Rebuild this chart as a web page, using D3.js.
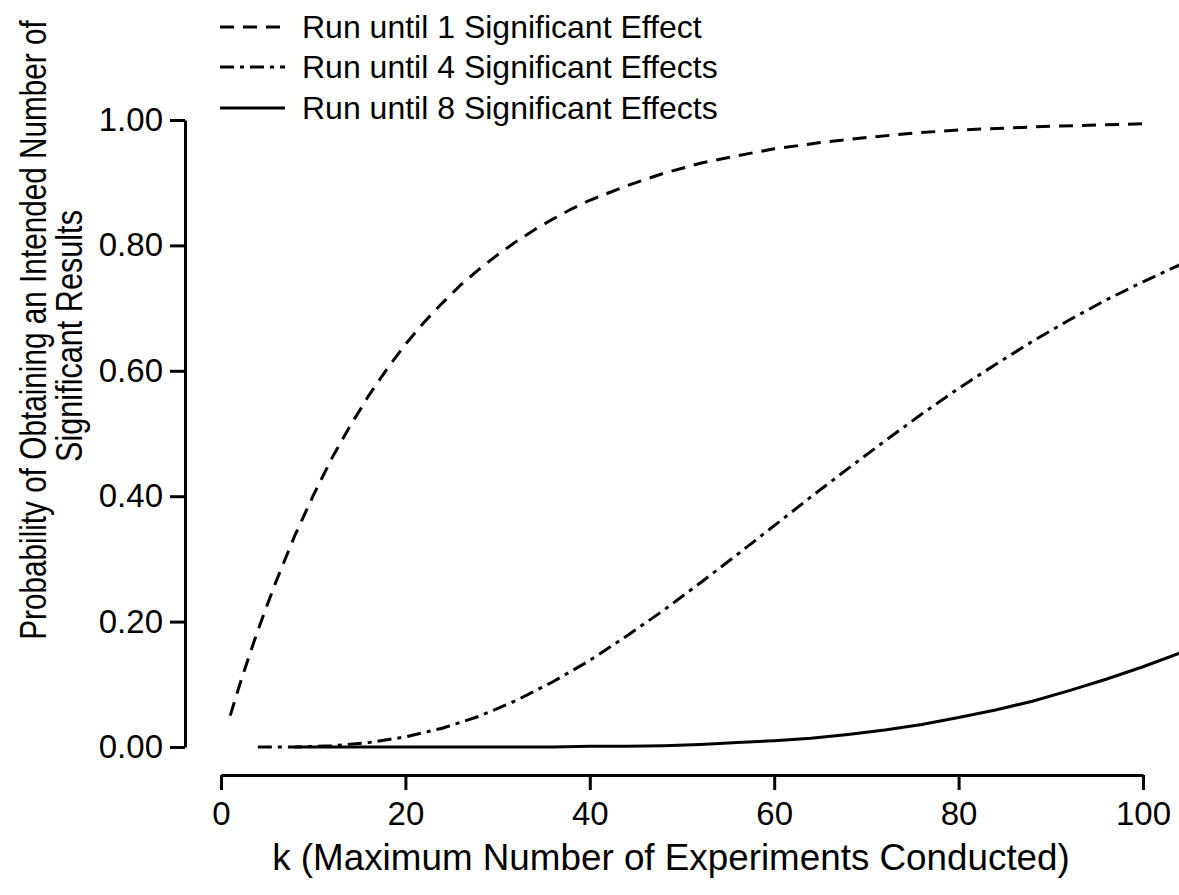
<!DOCTYPE html>
<html>
<head>
<meta charset="utf-8">
<script src="https://cdn.jsdelivr.net/npm/d3@7"></script>
<style>
  body { margin: 0; background: #fff; }
  text { font-family: "Liberation Sans", Arial, sans-serif; fill: #000; }
</style>
</head>
<body>
<div id="chart"></div>
<script>
// values
var kOne = [1, 2, 3, 4, 5, 6, 8, 10, 12, 14, 16, 18, 20, 22, 24, 26, 28, 30, 32, 34, 36, 38, 40, 44, 48, 52, 56, 60, 65, 70, 75, 80, 85, 90, 95, 100];
var pOne = [0.050, 0.098, 0.143, 0.186, 0.226, 0.265, 0.337, 0.401, 0.460, 0.512, 0.560, 0.603, 0.642, 0.677, 0.708, 0.737, 0.762, 0.785, 0.806, 0.825, 0.842, 0.858, 0.872, 0.895, 0.915, 0.931, 0.943, 0.954, 0.964, 0.972, 0.979, 0.984, 0.987, 0.990, 0.992, 0.994];

var kFour = [4, 8, 12, 16, 20, 24, 28, 32, 36, 40, 44, 48, 52, 56, 60, 64, 68, 72, 76, 80, 84, 88, 92, 96, 100, 104];
var pFour = [0.000, 0.000, 0.002, 0.007, 0.016, 0.030, 0.049, 0.074, 0.104, 0.138, 0.177, 0.218, 0.262, 0.307, 0.353, 0.399, 0.444, 0.488, 0.531, 0.572, 0.610, 0.647, 0.681, 0.713, 0.742, 0.769];

var kEight = [8, 12, 16, 20, 24, 28, 32, 36, 40, 44, 48, 52, 56, 60, 64, 68, 72, 76, 80, 84, 88, 92, 96, 100, 104];
var pEight = [0.000, 0.000, 0.000, 0.000, 0.000, 0.000, 0.000, 0.000, 0.001, 0.001, 0.002, 0.004, 0.007, 0.010, 0.014, 0.020, 0.027, 0.036, 0.047, 0.059, 0.073, 0.090, 0.108, 0.128, 0.150];

var xTicks = [0, 20, 40, 60, 80, 100];
var yTicks = [0, 0.2, 0.4, 0.6, 0.8, 1.0];

var seriesNames = ["Run until 1 Significant Effect", "Run until 4 Significant Effects", "Run until 8 Significant Effects"];
var dashes = ["14,9", "14,6,4,6", null];

var width = 1179, height = 895;

var svg = d3.select("#chart").append("svg")
    .attr("width", width)
    .attr("height", height);

var xScale = d3.scaleLinear().domain([0, 100]).range([221, 1143]);
var yScale = d3.scaleLinear().domain([0, 1]).range([747, 120]);

// x axis, offset below the plot
var xAxis = svg.append("g")
    .attr("transform", "translate(0,775)")
    .call(d3.axisBottom(xScale).tickValues(xTicks).tickSize(15).tickPadding(12).tickSizeOuter(0));
xAxis.select(".domain").attr("stroke-width", 3);
xAxis.selectAll(".tick line").attr("stroke-width", 3);
xAxis.selectAll(".tick text").style("font-size", "33px").attr("fill", "#000");

// y axis
var yAxis = svg.append("g")
    .attr("transform", "translate(185,0)")
    .call(d3.axisLeft(yScale).tickValues(yTicks).tickFormat(d3.format(".2f")).tickSize(15).tickPadding(7).tickSizeOuter(0));
yAxis.select(".domain").attr("stroke-width", 3);
yAxis.selectAll(".tick line").attr("stroke-width", 3);
yAxis.selectAll(".tick text").style("font-size", "33px").attr("fill", "#000");

var line = d3.line()
    .x(function(d) { return xScale(d[0]); })
    .y(function(d) { return yScale(d[1]); });

var allSeries = [d3.zip(kOne, pOne), d3.zip(kFour, pFour), d3.zip(kEight, pEight)];

allSeries.forEach(function(s, i) {
    svg.append("path")
        .datum(s)
        .attr("d", line)
        .attr("fill", "none")
        .attr("stroke", "#000")
        .attr("stroke-width", 3)
        .attr("stroke-dasharray", dashes[i]);
});

// legend
var legendY = [27, 67, 108];
seriesNames.forEach(function(name, i) {
    svg.append("line")
        .attr("x1", 220).attr("x2", 285)
        .attr("y1", legendY[i]).attr("y2", legendY[i])
        .attr("stroke", "#000")
        .attr("stroke-width", 3)
        .attr("stroke-dasharray", dashes[i]);
    svg.append("text")
        .attr("x", 302)
        .attr("y", legendY[i])
        .attr("dy", "0.35em")
        .style("font-size", "32px")
        .text(name);
});

// axis titles: the original uses a condensed face, so squeeze a normal one
function narrowText(cx, cy, rotate, wanted, str) {
    var t = svg.append("text")
        .attr("text-anchor", "middle")
        .style("font-size", "37px")
        .text(str);
    var w = t.node().getComputedTextLength();
    var sx = wanted / w;
    t.attr("transform", "translate(" + cx + "," + cy + ") rotate(" + rotate + ") scale(" + sx + ",1)");
    return t;
}

narrowText(671, 870, 0, 798, "k (Maximum Number of Experiments Conducted)");
narrowText(46, 330, -90, 620, "Probability of Obtaining an Intended Number of");
narrowText(82, 336, -90, 252, "Significant Results");
</script>
</body>
</html>
